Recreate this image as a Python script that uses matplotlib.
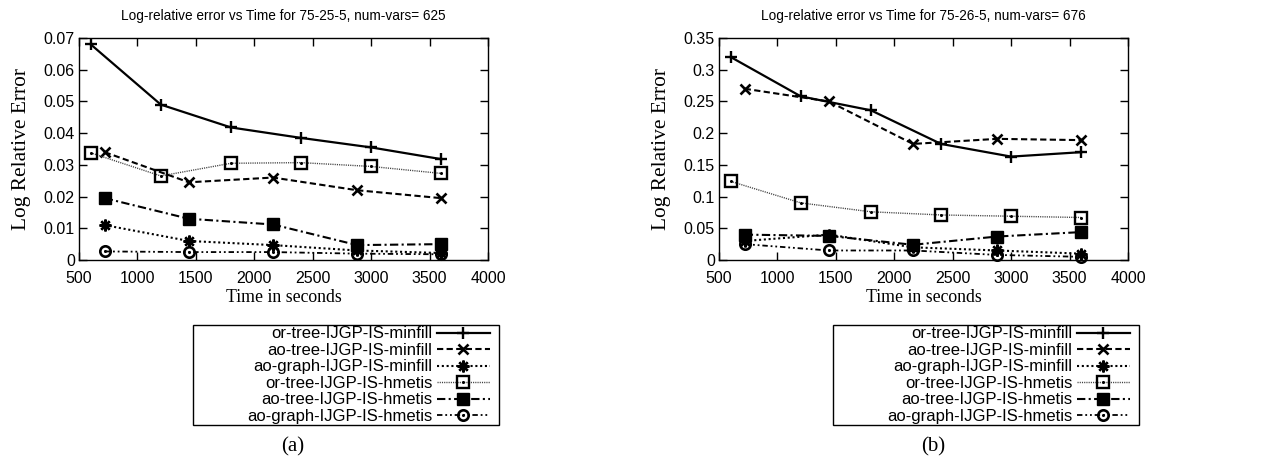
import matplotlib
matplotlib.use("Agg")
import matplotlib.pyplot as plt
from matplotlib.legend_handler import HandlerTuple
from matplotlib.patches import Rectangle

# Sampling times (seconds)
times_or = [600, 1200, 1800, 2400, 3000, 3600]
times_ao = [720, 1440, 2160, 2880, 3600]

series_labels = [
    "or-tree-IJGP-IS-minfill",
    "ao-tree-IJGP-IS-minfill",
    "ao-graph-IJGP-IS-minfill",
    "or-tree-IJGP-IS-hmetis",
    "ao-tree-IJGP-IS-hmetis",
    "ao-graph-IJGP-IS-hmetis",
]

# Panel (a): 75-25-5, 625 variables
a_or_tree_minfill = [0.068, 0.049, 0.0418, 0.0385, 0.0355, 0.0318]
a_ao_tree_minfill = [0.034, 0.0245, 0.026, 0.022, 0.0195]
a_ao_graph_minfill = [0.011, 0.006, 0.0047, 0.003, 0.0022]
a_or_tree_hmetis = [0.0338, 0.0265, 0.0305, 0.0307, 0.0295, 0.0273]
a_ao_tree_hmetis = [0.0195, 0.013, 0.0112, 0.0047, 0.005]
a_ao_graph_hmetis = [0.0027, 0.0025, 0.0025, 0.002, 0.0018]

# Panel (b): 75-26-5, 676 variables
b_or_tree_minfill = [0.32, 0.258, 0.236, 0.183, 0.163, 0.17]
b_ao_tree_minfill = [0.27, 0.25, 0.183, 0.191, 0.189]
b_ao_graph_minfill = [0.03, 0.04, 0.02, 0.015, 0.01]
b_or_tree_hmetis = [0.124, 0.09, 0.076, 0.071, 0.069, 0.067]
b_ao_tree_hmetis = [0.04, 0.038, 0.024, 0.037, 0.044]
b_ao_graph_hmetis = [0.025, 0.015, 0.015, 0.008, 0.005]

x_ticks = [500, 1000, 1500, 2000, 2500, 3000, 3500, 4000]
a_y_ticks = [0, 0.01, 0.02, 0.03, 0.04, 0.05, 0.06, 0.07]
a_y_ticklabels = ["0", "0.01", "0.02", "0.03", "0.04", "0.05", "0.06", "0.07"]
b_y_ticks = [0, 0.05, 0.1, 0.15, 0.2, 0.25, 0.3, 0.35]
b_y_ticklabels = ["0", "0.05", "0.1", "0.15", "0.2", "0.25", "0.3", "0.35"]

titles = [
    "Log-relative error vs Time for 75-25-5, num-vars= 625",
    "Log-relative error vs Time for 75-26-5, num-vars= 676",
]
captions = ["(a)", "(b)"]

SANS = "Liberation Sans"
SERIF = "Liberation Serif"

# line / marker styles per series
styles = [
    dict(ls="-", lw=1.6, marker="+", ms=8.5, mew=1.7, center_dot=False, color="black"),
    dict(ls=(0, (3.0, 1.6)), lw=1.5, marker="x", ms=7.8, mew=1.9, center_dot=False, color="black"),
    dict(ls=(0, (1.0, 1.3)), lw=1.5, marker=(8, 2, 0), ms=8.5, mew=1.7, center_dot=False, color="black"),
    dict(ls=(0, (0.8, 0.8)), lw=1.0, marker="s", ms=8, mew=1.7, center_dot=True, color="#404040"),
    dict(ls=(0, (4.0, 1.6, 1.0, 1.6)), lw=1.5, marker="s", ms=8, mew=1.0, center_dot=False, color="black", filled=True),
    dict(ls=(0, (3.0, 1.6, 1.0, 1.6, 1.0, 1.6)), lw=1.3, marker="o", ms=7.5, mew=1.9, center_dot=True, color="black"),
]

W, H = 1270.0, 461.0
fig = plt.figure(figsize=(W / 100, H / 100), dpi=100)

panels = [
    dict(
        data=[a_or_tree_minfill, a_ao_tree_minfill, a_ao_graph_minfill,
              a_or_tree_hmetis, a_ao_tree_hmetis, a_ao_graph_hmetis],
        yticks=a_y_ticks, yticklabels=a_y_ticklabels, ymax=0.07,
        left=79, title=titles[0], caption=captions[0],
        box_left=193, caption_x=293,
    ),
    dict(
        data=[b_or_tree_minfill, b_ao_tree_minfill, b_ao_graph_minfill,
              b_or_tree_hmetis, b_ao_tree_hmetis, b_ao_graph_hmetis],
        yticks=b_y_ticks, yticklabels=b_y_ticklabels, ymax=0.35,
        left=719, title=titles[1], caption=captions[1],
        box_left=833, caption_x=933,
    ),
]

ax_top, ax_bottom, ax_width = 38.0, 260.0, 409.0
box_w, box_top, box_bottom = 306.0, 325.0, 425.0

for panel in panels:
    ax = fig.add_axes([panel["left"] / W, 1 - ax_bottom / H,
                       ax_width / W, (ax_bottom - ax_top) / H])
    handles = []
    for i, values in enumerate(panel["data"]):
        st = styles[i]
        xs = times_or if len(values) == 6 else times_ao
        filled = st.get("filled", False)
        line, = ax.plot(
            xs, values, linestyle=st["ls"], linewidth=st["lw"], color=st["color"],
            marker=st["marker"], markersize=st["ms"], markeredgewidth=st["mew"],
            markeredgecolor="black",
            markerfacecolor="black" if filled else "none",
            dash_capstyle="butt", clip_on=False, zorder=3,
        )
        if st["center_dot"]:
            dots, = ax.plot(xs, values, linestyle="none", marker="o", markersize=2.2,
                            markeredgewidth=0, markerfacecolor="black",
                            clip_on=False, zorder=4)
            handles.append((line, dots))
        else:
            handles.append(line)

    ax.set_xlim(500, 4000)
    ax.set_ylim(0, panel["ymax"])
    ax.set_xticks(x_ticks)
    ax.set_xticklabels([str(v) for v in x_ticks])
    ax.set_yticks(panel["yticks"])
    ax.set_yticklabels(panel["yticklabels"])
    ax.tick_params(direction="in", top=True, right=True, length=5.5, width=1,
                   labelsize=11.5)
    ax.tick_params(axis="x", pad=8)
    ax.tick_params(axis="y", pad=3)
    for lab in ax.get_xticklabels() + ax.get_yticklabels():
        lab.set_fontfamily(SANS)
    for sp in ax.spines.values():
        sp.set_linewidth(1.0)

    ax.set_xlabel("Time in seconds", fontfamily=SERIF, fontsize=12.8, labelpad=2)
    ax.set_ylabel("Log Relative Error", fontfamily=SERIF, fontsize=15.4, labelpad=9)
    ax.set_title(panel["title"], fontfamily=SANS, fontsize=9.8, pad=13)

    # key box drawn separately so it can be wider than its entries
    bl = panel["box_left"]
    fig.patches.append(Rectangle((bl / W, 1 - box_bottom / H), box_w / W,
                                 (box_bottom - box_top) / H,
                                 transform=fig.transFigure, fill=False,
                                 edgecolor="black", linewidth=1.0))

    leg = ax.legend(
        handles, series_labels,
        handler_map={tuple: HandlerTuple(ndivide=1)},
        loc="upper right",
        bbox_to_anchor=((bl + 297) / W, 1 - 326.5 / H),
        bbox_transform=fig.transFigure,
        markerfirst=False, frameon=False,
        borderpad=0, labelspacing=0.09, handlelength=3.2, handletextpad=0.25,
        borderaxespad=0, prop={"family": SANS, "size": 12},
    )

    fig.text(panel["caption_x"] / W, 1 - 447 / H, panel["caption"],
             fontfamily=SERIF, fontsize=15, ha="center", va="center")

fig.savefig("out.png", dpi=100)
